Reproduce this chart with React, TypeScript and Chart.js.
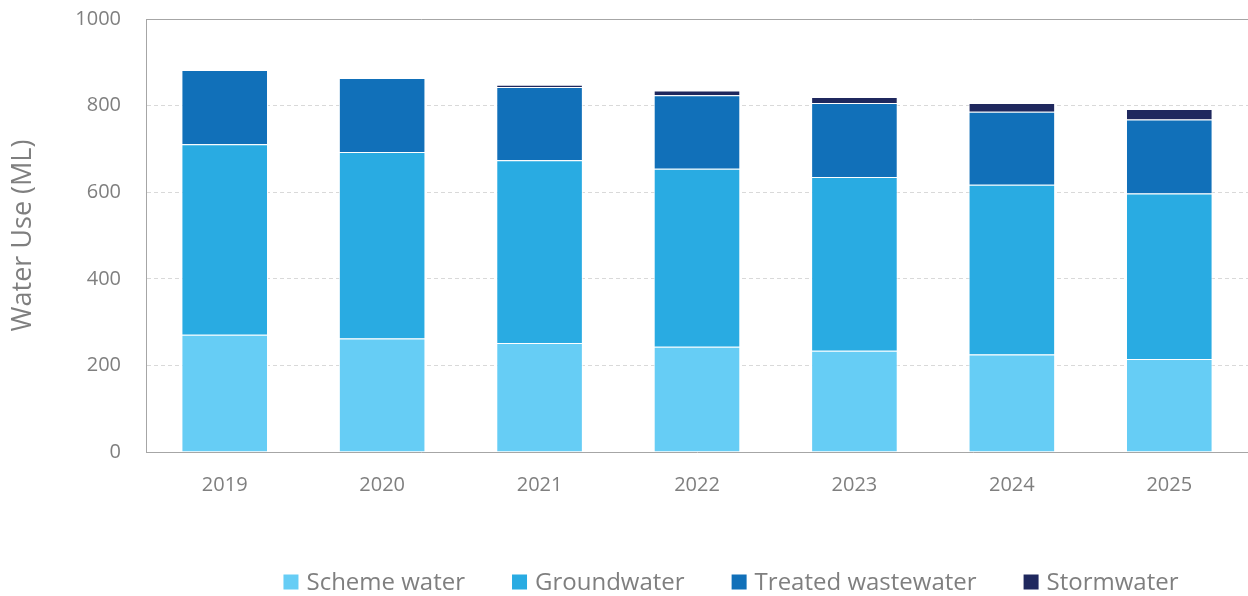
import React, { useEffect, useRef } from "react";
import { Chart, registerables } from "chart.js";

Chart.register(...registerables);

const years = ["2019", "2020", "2021", "2022", "2023", "2024", "2025"];
const schemeWater = [271, 262, 252, 243, 234, 225, 215];
const groundwater = [440, 431, 422, 411, 401, 392, 382];
const treatedWastewater = [171, 171, 169, 170, 171, 169, 171];
const stormwater = [0, 0, 5, 11, 14, 20, 24];
const seriesLabels = ["Scheme water", "Groundwater", "Treated wastewater", "Stormwater"];
const seriesColors = ["#66CDF5", "#29ABE2", "#1170B9", "#1F285E"];
const yAxisTitle = "Water Use (ML)";

const FONT = '"Open Sans", "DejaVu Sans", sans-serif';
const TEXT_GREY = "#7f7f7f";
const AXIS_GREY = "#a6a6a6";

const frameAndLegendPlugin = {
  id: "frameAndLegend",
  afterDraw(chart: any) {
    const ctx = chart.ctx;
    const area = chart.chartArea;
    ctx.save();
    ctx.strokeStyle = AXIS_GREY;
    ctx.lineWidth = 1;
    ctx.beginPath();
    ctx.moveTo(area.left, Math.round(area.top) + 0.5);
    ctx.lineTo(area.right, Math.round(area.top) + 0.5);
    ctx.stroke();

    ctx.font = `24px ${FONT}`;
    ctx.textBaseline = "middle";
    const box = 15;
    const gap = 8;
    const spacing = 47;
    const items = chart.data.datasets.map((d: any) => ({
      label: d.label,
      color: d.backgroundColor,
      w: ctx.measureText(d.label).width,
    }));
    const total =
      items.reduce((s: number, it: any) => s + box + gap + it.w, 0) + spacing * (items.length - 1);
    let x = 731 - total / 2;
    const y = 582;
    for (const it of items) {
      ctx.fillStyle = it.color;
      ctx.fillRect(x, y - box / 2, box, box);
      x += box + gap;
      ctx.fillStyle = TEXT_GREY;
      ctx.fillText(it.label, x, y + 1);
      x += it.w + spacing;
    }
    ctx.restore();
  },
};

export default function App() {
  const canvasRef = useRef<HTMLCanvasElement | null>(null);

  useEffect(() => {
    if (!canvasRef.current) return;
    const series = [schemeWater, groundwater, treatedWastewater, stormwater];
    const chart = new Chart(canvasRef.current, {
      type: "bar",
      data: {
        labels: years,
        datasets: series.map((values, i) => ({
          label: seriesLabels[i],
          data: values,
          backgroundColor: seriesColors[i],
          borderColor: "#ffffff",
          borderWidth: 1,
          categoryPercentage: 1,
          barPercentage: 0.55,
        })),
      },
      options: {
        animation: false,
        responsive: false,
        maintainAspectRatio: false,
        layout: { padding: { top: 19, right: 0, bottom: 0, left: 0 } },
        plugins: {
          legend: { display: false },
          tooltip: { enabled: false },
        },
        scales: {
          x: {
            stacked: true,
            grid: { display: false, drawTicks: false },
            border: { display: true, color: AXIS_GREY, width: 1 },
            ticks: { font: { family: FONT, size: 20 }, color: TEXT_GREY, padding: 21 },
            afterFit: (s: any) => {
              s.height = 144;
              s.paddingLeft = 0;
              s.paddingRight = 0;
            },
          },
          y: {
            stacked: true,
            min: 0,
            max: 1000,
            ticks: {
              stepSize: 200,
              font: { family: FONT, size: 20 },
              color: TEXT_GREY,
              padding: 25,
              callback: (v: any) => String(v),
            },
            grid: {
              drawTicks: false,
              color: (c: any) =>
                c.tick && (c.tick.value === 0 || c.tick.value === 1000) ? "rgba(0,0,0,0)" : "#d9d9d9",
            },
            border: { display: true, color: AXIS_GREY, width: 1, dash: [4, 3] },
            title: {
              display: true,
              text: yAxisTitle,
              font: { family: FONT, size: 27 },
              color: TEXT_GREY,
              padding: { top: 7, bottom: 0 },
            },
            afterFit: (s: any) => {
              s.width = 146;
              s.paddingTop = 0;
              s.paddingBottom = 0;
            },
          },
        },
      },
      plugins: [frameAndLegendPlugin],
    } as any);
    return () => chart.destroy();
  }, []);

  return (
    <div style={{ position: "fixed", left: 0, top: 0, width: 1248, height: 596, background: "#fff" }}>
      <canvas ref={canvasRef} width={1248} height={596} style={{ width: 1248, height: 596 }} />
    </div>
  );
}
